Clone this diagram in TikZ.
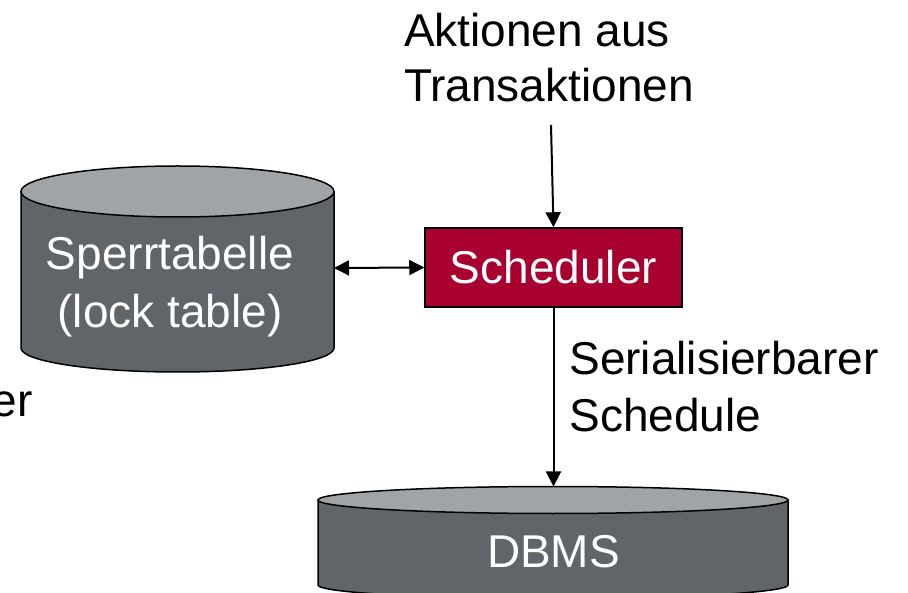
\documentclass[tikz,border=0pt]{standalone}
\usepackage{fontspec}
\setmainfont{Liberation Sans}
\usetikzlibrary{arrows.meta}
\definecolor{cylbody}{HTML}{5F6569}
\definecolor{cyltop}{HTML}{A1A4A7}
\definecolor{schedred}{HTML}{A8002F}
\tikzset{
  bigtext/.style={font=\fontsize{46}{55}\selectfont, inner sep=0pt},
  whitetext/.style={bigtext, text=white},
  arr/.style={line width=2pt, -{Triangle[width=15pt,length=15pt]}},
  dblarr/.style={line width=2pt, {Triangle[width=15pt,length=15pt]}-{Triangle[width=15pt,length=15pt]}},
  outline/.style={line width=1.5pt, draw=black},
}
\begin{document}
\begin{tikzpicture}[x=1pt,y=-1pt]
\useasboundingbox (0,0) rectangle (908,593);
% lock table cylinder
\fill[cylbody] (21,191.5) rectangle (334,348);
\fill[cylbody] (177.5,348) ellipse [x radius=156.5pt, y radius=24pt];
\draw[outline] (21,191.5) -- (21,348) arc[start angle=180, end angle=360, x radius=156.5pt, y radius=24pt] -- (334,191.5);
\filldraw[outline, fill=cyltop] (177.5,191.5) ellipse [x radius=156.5pt, y radius=25.5pt];
\node[whitetext, align=center, font=\fontsize{46}{58}\selectfont] (lock) at (170,287) {Sperrtabelle\\(lock table)};
\coordinate (lockR) at (334,268);
% DBMS cylinder
\fill[cylbody] (318,500) rectangle (788,585);
\fill[cylbody] (553,585) ellipse [x radius=235pt, y radius=13.5pt];
\draw[outline] (318,500) -- (318,585) arc[start angle=180, end angle=360, x radius=235pt, y radius=13.5pt] -- (788,500);
\filldraw[outline, fill=cyltop] (553,500) ellipse [x radius=235pt, y radius=13.5pt];
\node[whitetext] (dbms) at (553.5,551.5) {DBMS};
\coordinate (dbtop) at (553,486.5);
% Scheduler
\node[whitetext, fill=schedred, draw=black, line width=1.5pt, minimum width=257pt, minimum height=79pt] (sched) at (553.5,267.5) {Scheduler};
% texts
\node[bigtext, align=left] (akt) at (549,58) {Aktionen aus\\Transaktionen};
\coordinate (aktend) at (551,125);
\node[bigtext, align=left, font=\fontsize{46}{57}\selectfont] (ser) at (724,386.5) {Serialisierbarer\\Schedule};
\node[bigtext, anchor=base east] (er) at (33,417) {er};
% connectors
\draw[arr] (aktend) -- (sched.north);
\draw[dblarr] (lockR) -- (sched.west);
\draw[arr] (sched.south) -- (sched.south |- dbtop);
\end{tikzpicture}
\end{document}
